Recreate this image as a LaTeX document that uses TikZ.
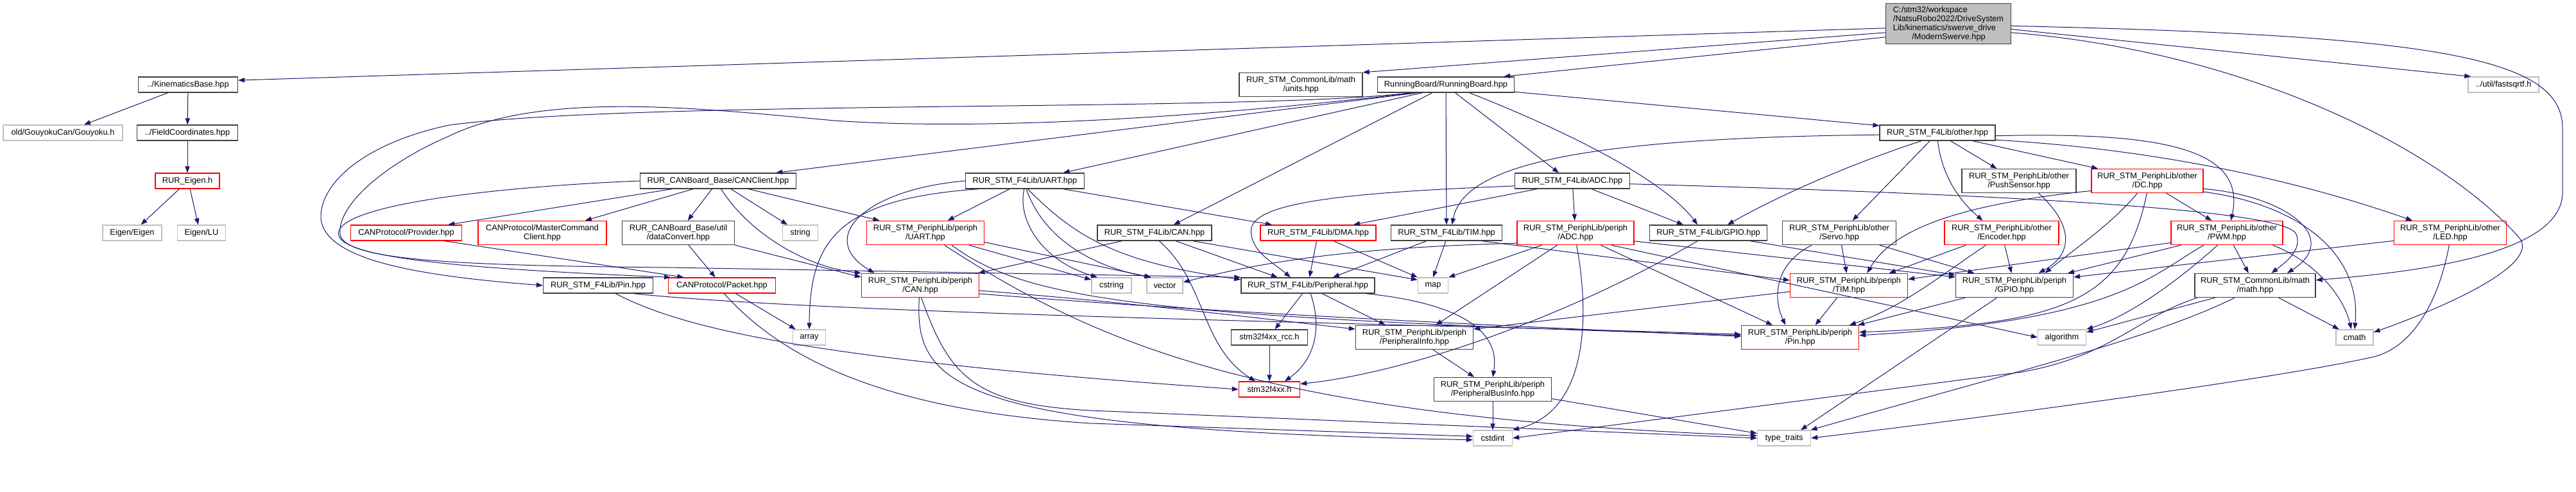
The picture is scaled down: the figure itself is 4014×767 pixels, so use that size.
\documentclass[tikz,border=0pt]{standalone}
\usepackage{fontspec}
\setmainfont{Liberation Sans}
\usetikzlibrary{arrows.meta}
\definecolor{edgeblue}{HTML}{191970}
\definecolor{boxgray}{HTML}{BFBFBF}
\definecolor{boxdark}{HTML}{404040}

\begin{document}
\begin{tikzpicture}[x=0.75pt, y=-0.75pt,
    every node/.style={font=\fontsize{9.6}{10.6}\selectfont, align=center, inner xsep=1pt, inner ysep=2pt, line width=1pt},
    file/.style={draw=boxdark, rectangle, minimum height=18pt},
    redfile/.style={file, draw=red},
    sysfile/.style={file, draw=boxgray},
    two/.style={minimum height=27.75pt},
    dep/.style={draw=edgeblue, line width=0.75pt, -{Triangle[length=7.5pt, width=5.5pt]}}]
    \path[use as bounding box, fill=white] (0,0) rectangle (4014,767);

    \node[file, fill=boxgray, minimum width=146.25pt, minimum height=47.25pt, align=left] (main) at (3036,37) {C:/stm32/workspace\\/NatsuRobo2022/DriveSystem\\Lib/kinematics/swerve\_drive\\\hspace*{22pt}/ModernSwerve.hpp};
    \node[file, minimum width=116.25pt] (kin) at (293,132) {../KinematicsBase.hpp};
    \node[sysfile, minimum width=139.5pt] (gou) at (98,207) {old/GouyokuCan/Gouyoku.h};
    \node[file, minimum width=117.75pt] (field) at (292,207) {../FieldCoordinates.hpp};
    \node[redfile, minimum width=75pt] (eigen) at (292,282) {RUR\_Eigen.h};
    \node[sysfile, minimum width=69pt] (eig) at (206,363) {Eigen/Eigen};
    \node[sysfile, minimum width=56.25pt] (lu) at (314,363) {Eigen/LU};
    \node[redfile, minimum width=129.75pt] (prov) at (633,363) {CANProtocol/Provider.hpp};
    \node[redfile, two, minimum width=150pt] (mcc) at (845,363) {CANProtocol/MasterCommand\\Client.hpp};
    \node[file, minimum width=182.25pt] (canc) at (1119,282) {RUR\_CANBoard\_Base/CANClient.hpp};
    \node[file, two, minimum width=131.25pt] (dconv) at (1057,363) {RUR\_CANBoard\_Base/util\\/dataConvert.hpp};
    \node[sysfile, minimum width=41.25pt] (str) at (1247,363) {string};
    \node[file, minimum width=128.25pt] (f4pin) at (932,445) {RUR\_STM\_F4Lib/Pin.hpp};
    \node[redfile, minimum width=125.25pt] (pkt) at (1125,445) {CANProtocol/Packet.hpp};
    \node[sysfile, minimum width=38.25pt] (arr) at (1261,526) {array};
    \node[file, minimum width=138.75pt] (f4uart) at (1597,282) {RUR\_STM\_F4Lib/UART.hpp};
    \node[redfile, two, minimum width=137.25pt] (puart) at (1442,363) {RUR\_STM\_PeriphLib/periph\\/UART.hpp};
    \node[redfile, two, minimum width=137.25pt] (pcan) at (1434,445) {RUR\_STM\_PeriphLib/periph\\/CAN.hpp};
    \node[sysfile, minimum width=46.5pt] (cstr) at (1732,445) {cstring};
    \node[sysfile, minimum width=42pt] (vec) at (1815,445) {vector};
    \node[file, minimum width=133.5pt] (f4can) at (1799,363) {RUR\_STM\_F4Lib/CAN.hpp};
    \node[file, two, minimum width=144pt] (units) at (2027,132) {RUR\_STM\_CommonLib/math\\/units.hpp};
    \node[file, minimum width=159.75pt] (rb) at (2253,132) {RunningBoard/RunningBoard.hpp};
    \node[file, minimum width=134.25pt] (f4adc) at (2450,282) {RUR\_STM\_F4Lib/ADC.hpp};
    \node[redfile, minimum width=135pt] (f4dma) at (2054,363) {RUR\_STM\_F4Lib/DMA.hpp};
    \node[file, minimum width=129.75pt] (f4tim) at (2254,363) {RUR\_STM\_F4Lib/TIM.hpp};
    \node[redfile, two, minimum width=136.5pt] (padc) at (2455,363) {RUR\_STM\_PeriphLib/periph\\/ADC.hpp};
    \node[file, minimum width=137.25pt] (f4gpio) at (2662,363) {RUR\_STM\_F4Lib/GPIO.hpp};
    \node[file, minimum width=156pt] (f4per) at (2038,445) {RUR\_STM\_F4Lib/Peripheral.hpp};
    \node[sysfile, minimum width=35.25pt] (map) at (2233,445) {map};
    \node[file, minimum width=89.25pt] (rcc) at (1978,526) {stm32f4xx\_rcc.h};
    \node[file, two, minimum width=137.25pt] (pinfo) at (2204,526) {RUR\_STM\_PeriphLib/periph\\/PeripheralInfo.hpp};
    \node[redfile, minimum width=71.25pt] (stm) at (1978,607) {stm32f4xx.h};
    \node[file, two, minimum width=137.25pt] (pbus) at (2326,607) {RUR\_STM\_PeriphLib/periph\\/PeripheralBusInfo.hpp};
    \node[sysfile, minimum width=45.75pt] (cstdint) at (2326,683) {cstdint};
    \node[file, minimum width=135pt] (f4other) at (3019,207) {RUR\_STM\_F4Lib/other.hpp};
    \node[file, two, minimum width=133.5pt] (push) at (3146,282) {RUR\_STM\_PeriphLib/other\\/PushSensor.hpp};
    \node[redfile, two, minimum width=130.5pt] (dc) at (3346,282) {RUR\_STM\_PeriphLib/other\\/DC.hpp};
    \node[file, two, minimum width=132.75pt] (servo) at (2866,363) {RUR\_STM\_PeriphLib/other\\/Servo.hpp};
    \node[redfile, two, minimum width=133.5pt] (enc) at (3119,363) {RUR\_STM\_PeriphLib/other\\/Encoder.hpp};
    \node[redfile, two, minimum width=137.25pt] (ptim) at (2881,445) {RUR\_STM\_PeriphLib/periph\\/TIM.hpp};
    \node[file, two, minimum width=137.25pt] (pgpio) at (3139,445) {RUR\_STM\_PeriphLib/periph\\/GPIO.hpp};
    \node[redfile, two, minimum width=137.25pt] (ppin) at (2805,526) {RUR\_STM\_PeriphLib/periph\\/Pin.hpp};
    \node[sysfile, minimum width=56.25pt] (algo) at (3213,526) {algorithm};
    \node[sysfile, minimum width=62.25pt] (tt) at (2780,683) {type\_traits};
    \node[sysfile, minimum width=82.5pt] (fsq) at (3901,132) {../util/fastsqrtf.h};
    \node[redfile, two, minimum width=130.5pt] (pwm) at (3470,363) {RUR\_STM\_PeriphLib/other\\/PWM.hpp};
    \node[redfile, two, minimum width=131.25pt] (led) at (3818,363) {RUR\_STM\_PeriphLib/other\\/LED.hpp};
    \node[file, two, minimum width=141pt] (math) at (3514,445) {RUR\_STM\_CommonLib/math\\/math.hpp};
    \node[sysfile, minimum width=43.5pt] (cmath) at (3669,526) {cmath};

    \draw[dep] (main.184) -- (kin.5);
    \draw[dep] (main.188) -- (units.north east);
    \draw[dep] (main.192) -- (rb.8);
    \draw[dep] (main.355) -- (fsq.166);
    \draw[dep] (main.358) .. controls (3800,55) and (3993,90) .. (3993,200) -- (3993,300) .. controls (3993,400) and (3750,425) .. (math.5);
    \draw[dep] (main.352) .. controls (3500,80) and (3800,230) .. (3925,370) .. controls (3960,410) and (3820,475) .. (cmath.15);
    \draw[dep] (kin.202) -- (gou.21);
    \draw[dep] (kin) -- (field);
    \draw[dep] (field) -- (eigen);
    \draw[dep] (eigen.225) -- (eig.43);
    \draw[dep] (eigen.288) -- (lu.112);

    \draw[dep] (rb.196) -- (canc.8);
    \draw[dep] (rb.199) -- (f4uart.12);
    \draw[dep] (rb.211) -- (f4can.23);
    \draw[dep] (rb) -- (f4tim);
    \draw[dep] (rb.319) -- (f4adc.149);
    \draw[dep] (rb.341) .. controls (2480,220) and (2600,290) .. (f4gpio.143);
    \draw[dep] (rb.354) -- (f4other.173);
    \draw[dep] (rb.193) .. controls (1950,175) and (1000,155) .. (700,195) .. controls (560,225) and (498,290) .. (500,340) .. controls (505,405) and (650,430) .. (f4pin.west);
    \draw[dep] (rb.195) .. controls (1900,180) and (1550,205) .. (1300,188) .. controls (1100,170) and (850,140) .. (700,212) .. controls (600,255) and (525,320) .. (530,365) .. controls (535,405) and (700,414) .. (1040,417) -- (f4per.north west);

    \draw[dep] (canc.190) -- (prov.11);
    \draw[dep] (canc.198) -- (mcc.16);
    \draw[dep] (canc) -- (dconv);
    \draw[dep] (canc) -- (str);
    \draw[dep] (canc.345) -- (puart.165);
    \draw[dep] (canc.290) .. controls (1165,360) and (1250,415) .. (pcan.north west);
    \draw[dep] (canc.west) .. controls (800,290) and (545,315) .. (528,360) .. controls (515,400) and (700,418) .. (pkt.171);
    \draw[dep] (prov.348) -- (pkt.168);
    \draw[dep] (dconv) -- (pkt);
    \draw[dep] (dconv.south east) -- (pcan.172);

    \draw[dep] (f4pin.347) .. controls (1300,490) and (2200,505) .. (ppin.177);
    \draw[dep] (f4pin.335) .. controls (1060,510) and (1250,560) .. (stm.west);
    \draw[dep] (pkt) -- (arr);
    \draw[dep] (pkt.285) .. controls (1220,560) and (1380,640) .. (1700,660) -- (cstdint.175);
    \draw[dep] (pcan.265) .. controls (1425,600) and (1480,670) .. (cstdint.185);
    \draw[dep] (pcan.275) .. controls (1480,590) and (1520,630) .. (1700,640) -- (tt.west);
    \draw[dep] (pcan.355) .. controls (1750,470) and (1950,495) .. (pinfo.172);
    \draw[dep] (pcan.352) .. controls (1800,480) and (2150,500) .. (ppin.179);

    \draw[dep] (puart) -- (cstr);
    \draw[dep] (puart.351) -- (vec.149);
    \draw[dep] (puart.327) .. controls (1700,530) and (1950,650) .. (tt.175);
    \draw[dep] (puart.335) .. controls (1600,470) and (1800,495) .. (ppin.178);

    \draw[dep] (f4uart.208) -- (puart.29);
    \draw[dep] (f4uart.265) .. controls (1585,340) and (1620,405) .. (cstr.150);
    \draw[dep] (f4uart.280) .. controls (1625,370) and (1700,415) .. (vec.150);
    \draw[dep] (f4uart.290) .. controls (1680,375) and (1750,410) .. (f4per.175);
    \draw[dep] (f4uart.348) -- (f4dma.170);
    \draw[dep] (f4uart.190) .. controls (1300,310) and (1262,380) .. (arr.north);
    \draw[dep] (f4uart.west) .. controls (1350,295) and (1270,370) .. (pcan.165);

    \draw[dep] (f4can.194) -- (pcan.12);
    \draw[dep] (f4can.300) .. controls (1880,440) and (1870,540) .. (stm.150);
    \draw[dep] (f4can.339) -- (f4per.165);
    \draw[dep] (f4can.348) -- (map.160);

    \draw[dep] (f4dma) -- (f4per);
    \draw[dep] (f4dma.332) -- (map.north west);
    \draw[dep] (f4tim.202) -- (f4per.18);
    \draw[dep] (f4tim.265) -- (map.north);
    \draw[dep] (f4tim.347) -- (ptim.175);

    \draw[dep] (f4adc.185) .. controls (2100,300) and (1960,315) .. (1950,355) .. controls (1945,390) and (1985,410) .. (f4per.155);
    \draw[dep] (f4adc.193) -- (f4dma.13);
    \draw[dep] (f4adc) -- (padc);
    \draw[dep] (f4adc.337) -- (f4gpio.162);
    \draw[dep] (f4adc.357) .. controls (3200,305) and (3565,330) .. (3578,365) .. controls (3588,390) and (3560,410) .. (math.37);

    \draw[dep] (padc.190) .. controls (2150,385) and (2000,400) .. (vec.10);
    \draw[dep] (padc.200) -- (map.north east);
    \draw[dep] (padc.214) -- (pinfo.30);
    \draw[dep] (padc.275) .. controls (2475,480) and (2480,640) .. (cstdint.north east);
    \draw[dep] (padc.334) -- (ppin.156);
    \draw[dep] (padc.341) -- (algo.west);
    \draw[dep] (padc.352) -- (pgpio.172);

    \draw[dep] (f4gpio.217) .. controls (2450,490) and (2200,580) .. (stm.10);
    \draw[dep] (f4gpio.349) -- (pgpio.170);

    \draw[dep] (f4other.182) .. controls (2450,215) and (2280,260) .. (f4tim.56);
    \draw[dep] (f4other.207) .. controls (2900,250) and (2780,300) .. (f4gpio.23);
    \draw[dep] (f4other.227) -- (servo.43);
    \draw[dep] (f4other.272) .. controls (3025,270) and (3050,310) .. (enc.147);
    \draw[dep] (f4other.328) -- (push.151);
    \draw[dep] (f4other.347) -- (dc.166);
    \draw[dep] (f4other.357) .. controls (3380,205) and (3500,235) .. (pwm.72);
    \draw[dep] (f4other.353) .. controls (3400,235) and (3620,295) .. (led.162);

    \draw[dep] (servo) -- (ptim);
    \draw[dep] (servo.343) -- (pgpio.163);
    \draw[dep] (servo.204) .. controls (2760,415) and (2765,470) .. (ppin.140);
    \draw[dep] (enc.199) -- (ptim.17);
    \draw[dep] (enc) -- (pgpio);
    \draw[dep] (enc.218) .. controls (3010,440) and (2960,480) .. (ppin.14);
    \draw[dep] (push.328) .. controls (3230,350) and (3232,395) .. (pgpio.27);

    \draw[dep] (dc.190) .. controls (3060,318) and (2950,355) .. (ptim.34);
    \draw[dep] (dc.231) .. controls (3290,350) and (3230,390) .. (pgpio.22);
    \draw[dep] (dc.327) -- (pwm.141);
    \draw[dep] (dc.268) .. controls (3310,470) and (3220,505) .. (ppin.5);
    \draw[dep] (dc.352) .. controls (3560,305) and (3650,370) .. (math.21);
    \draw[dep] (dc.349) .. controls (3590,320) and (3680,400) .. (cmath.north);

    \draw[dep] (pwm.190) -- (ptim.6);
    \draw[dep] (pwm.195) -- (pgpio.13);
    \draw[dep] (pwm.208) .. controls (3350,430) and (3300,500) .. (ppin.2);
    \draw[dep] (pwm.233) .. controls (3380,450) and (3310,495) .. (algo.north east);
    \draw[dep] (pwm) -- (math);
    \draw[dep] (pwm.345) .. controls (3600,405) and (3650,455) .. (cmath.112);

    \draw[dep] (math) -- (cmath);
    \draw[dep] (math.197) -- (algo.12);
    \draw[dep] (math.192) .. controls (3330,495) and (3290,555) .. (3150,580) -- (cstdint.east);
    \draw[dep] (math.211) .. controls (3350,530) and (3100,590) .. (tt.17);

    \draw[dep] (led.188) -- (pgpio.8);
    \draw[dep] (led.265) .. controls (3800,470) and (3760,540) .. (3700,556) .. controls (3550,590) and (3100,650) .. (tt.east);

    \draw[dep] (ptim.226) -- (ppin.39);
    \draw[dep] (ptim.186) -- (pinfo.8);
    \draw[dep] (pgpio.194) -- (ppin.12);
    \draw[dep] (pgpio.215) -- (tt.26);

    \draw[dep] (pinfo) -- (pbus);
    \draw[dep] (pbus) -- (cstdint);
    \draw[dep] (pbus.351) -- (tt.170);
    \draw[dep] (f4per.236) -- (rcc.56);
    \draw[dep] (f4per.288) .. controls (2060,510) and (2050,560) .. (stm.28);
    \draw[dep] (f4per.330) -- (pinfo.157);
    \draw[dep] (f4per.352) .. controls (2250,470) and (2340,505) .. (pbus.north);
    \draw[dep] (rcc) -- (stm);
\end{tikzpicture}
\end{document}
